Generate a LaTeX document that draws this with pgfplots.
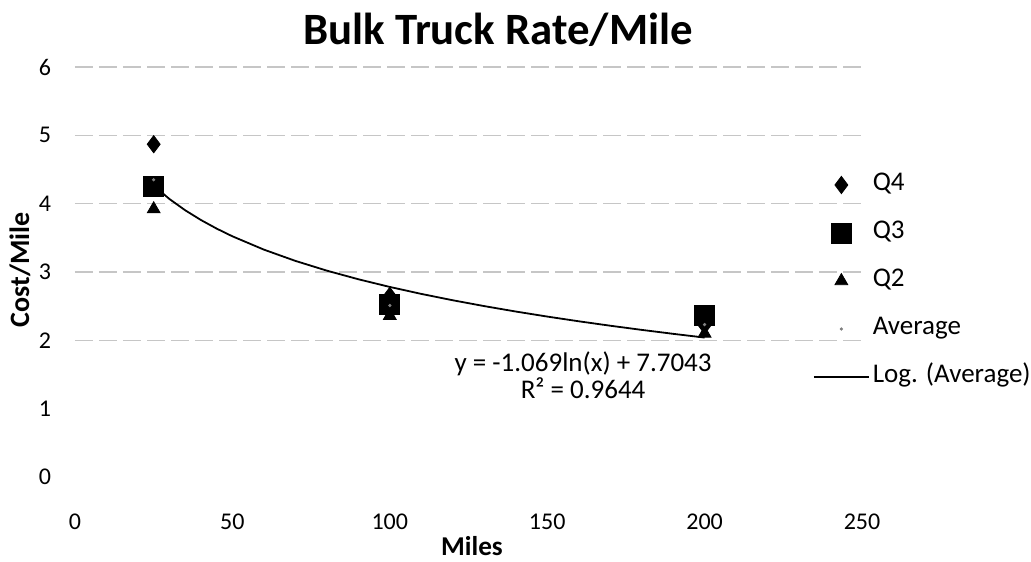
\documentclass[border=0pt]{standalone}
\usepackage{pgfplots}
\pgfplotsset{compat=1.18}
\usepackage{fontspec}
\setmainfont{Carlito}

\begin{document}
\begin{tikzpicture}
\path[use as bounding box] (-37.5pt,-42pt) rectangle (478pt,238.5pt);
\begin{axis}[
  scale only axis, width=393.5pt, height=205pt,
  xmin=0, xmax=250, ymin=0, ymax=6,
  xtick={0,50,...,250}, ytick={0,...,6},
  axis line style={draw=none}, tick style={draw=none},
  /pgf/number format/assume math mode=true,
  tick label style={font=\fontsize{12}{14}\selectfont},
  xticklabel style={anchor=center, yshift=-22.5pt},
  yticklabel style={anchor=center, xshift=-15pt},
  extra y ticks={2,3,4,5,6}, extra y tick labels={},
  extra y tick style={grid=major},
  major grid style={gray!45, line width=0.6pt, dash pattern=on 9pt off 3pt},
  title={Bulk Truck Rate/Mile},
  title style={at={(axis description cs:0.5375,1.061)}, anchor=center, yshift=0pt, font=\bfseries\fontsize{22.4}{26}\selectfont},
  xlabel={Miles}, ylabel={Cost/Mile},
  xlabel style={at={(axis description cs:0.5044,-0.1683)}, anchor=center, font=\bfseries\fontsize{13.6}{16}\selectfont},
  ylabel style={at={(axis description cs:-0.0699,0.505)}, anchor=center, font=\bfseries\fontsize{14}{16}\selectfont},
  legend style={draw=none, fill=none, at={(axis description cs:0.9377,0.7415)}, anchor=north west,
    inner sep=0pt, outer sep=0pt, row sep=12pt, column sep=1.5pt,
    nodes={inner sep=0pt, text height=9pt, text depth=3pt},
    font=\fontsize{13.5}{16}\selectfont},
  legend cell align=left,
  legend image code/.code={\draw[mark repeat=2,mark phase=2,#1] plot coordinates {(0pt,0pt)(13.75pt,0pt)(27.5pt,0pt)};},
  clip=false,
]
\addplot[only marks, mark=diamond*, mark size=4.3pt, black] coordinates {(25,4.87)(100,2.65)(200,2.22)};
\addlegendentry{Q4}
\addplot[only marks, mark=square*, mark size=5pt, black] coordinates {(25,4.25)(100,2.52)(200,2.37)};
\addlegendentry{Q3}
\addplot[only marks, mark=triangle*, mark size=3.7pt, black] coordinates {(25,3.92)(100,2.36)(200,2.10)};
\addlegendentry{Q2}
\addplot[only marks, mark=*, mark size=0.6pt, gray] coordinates {(25,4.35)(100,2.51)(200,2.23)};
\addlegendentry{Average}
\addplot[black, line width=0.9pt, mark=none] coordinates {
(25,4.2633)(30,4.0684)(35,3.9036)(40,3.7609)(45,3.6350)(50,3.5224)(60,3.3275)(70,3.1627)(80,3.0199)(90,2.8940)(100,2.7814)(110,2.6795)(120,2.5865)(130,2.5009)(140,2.4217)(150,2.3479)(160,2.2789)(170,2.2141)(180,2.1530)(190,2.0952)(200,2.0404)};
\addlegendentry{Log. (Average)}
\node[align=center, font=\fontsize{13.5}{13.5}\selectfont] at (axis cs:161.4,1.49) {y = -1.069ln(x) + 7.7043\\R² = 0.9644};
\end{axis}
\end{tikzpicture}
\end{document}
